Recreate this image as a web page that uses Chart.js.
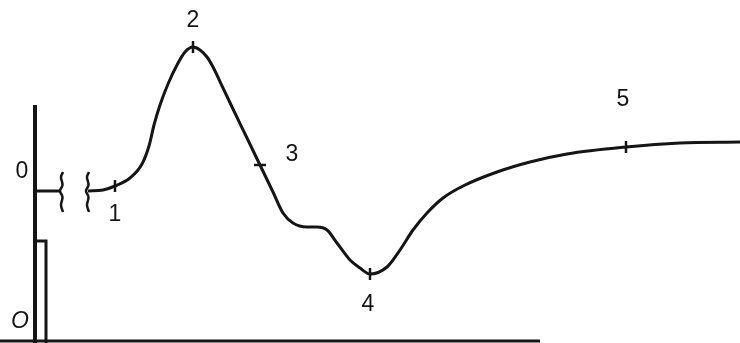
<!DOCTYPE html>
<html>
<head>
<meta charset="utf-8">
<script src="https://cdn.jsdelivr.net/npm/chart.js@4/dist/chart.umd.min.js"></script>
<style>
  html, body { margin: 0; padding: 0; background: #fff; }
  #wrap { width: 740px; height: 343px; }
</style>
</head>
<body>
<div id="wrap"><canvas id="chart" width="740" height="343"></canvas></div>
<script>
// --- DATA ---
// time (arbitrary units) and potential (baseline = 0)
const curveX = [8.8, 10.3, 11.5, 13.0, 14.2, 14.9, 15.4, 16.0, 16.8, 17.7, 18.5, 19.3, 20.0, 20.7, 21.3, 22.3, 23.3, 24.7, 26.0, 27.3, 28.3, 29.3, 30.7, 31.7, 32.7, 33.7, 35.0, 36.0, 37.0, 38.7, 40.0, 41.3, 42.7, 44.3, 46.3, 49.7, 53.0, 56.7, 62.6, 68.0, 74.0];
const curveY = [0.0, 0.1, 0.5, 1.3, 2.7, 4.5, 6.6, 8.6, 10.7, 12.6, 13.9, 14.4, 14.1, 13.4, 12.4, 10.3, 8.2, 5.3, 2.6, -0.1, -2.2, -3.2, -3.6, -3.6, -3.9, -5.2, -6.9, -7.7, -8.3, -7.6, -5.9, -3.9, -2.2, -0.7, 0.5, 1.9, 2.9, 3.7, 4.4, 4.8, 4.9];

const markX = [11.5, 19.3, 26.0, 37.0, 62.6];
const markY = [0.5, 14.4, 2.6, -8.3, 4.4];
const markLabels = ['1', '2', '3', '4', '5'];

const baselineX = [3.5, 6.0];
const baselineY = [0, 0];
const axisX = [3.5, 3.5];
const axisY = [8.6, -15.2];
const stimX = [3.5, 4.6, 4.6];
const stimY = [-5.0, -5.0, -15.2];
const groundX = [0, 54];
const groundY = [-15.0, -15.0];
const breakX = [6.15, 8.75];
const breakShapeDx = [0.15, -0.05, 0.1, -0.15, 0.1, -0.05, 0.15];
const breakShapeDy = [1.9, 1.4, 0.6, 0.0, -0.6, -1.4, -2.1];
const axisLabels = ['0', 'O'];

const pts = (xs, ys) => xs.map((x, i) => ({ x, y: ys[i] }));

const lineStyle = { borderColor: '#151515', borderWidth: 3, pointRadius: 0, fill: false, clip: false, tension: 0 };

const datasets = [
    { ...lineStyle, data: pts(curveX, curveY), cubicInterpolationMode: 'monotone' },
    { ...lineStyle, data: pts(baselineX, baselineY) },
    { ...lineStyle, data: pts(axisX, axisY), borderWidth: 4 },
    { ...lineStyle, data: pts(stimX, stimY) },
    { ...lineStyle, data: pts(groundX, groundY) },
    {
        type: 'scatter', data: pts(markX, markY), clip: false,
        pointStyle: 'line', pointRadius: 6, pointBorderWidth: 2.5,
        borderColor: '#151515', rotation: [90, 90, 0, 90, 90]
    }
];

breakX.forEach(bx => {
    datasets.push({
        ...lineStyle, borderWidth: 2.5, tension: 0.4,
        data: breakShapeDx.map((dx, i) => ({ x: bx + dx, y: breakShapeDy[i] }))
    });
});

// --- LABELS ---
const labelOffsets = [[0, 29], [0, -26], [32, -10], [-2, 31], [-3, -47]];

const labelPlugin = {
    id: 'labels',
    afterDatasetsDraw(chart) {
        const { ctx, scales: { x, y } } = chart;
        ctx.save();
        ctx.fillStyle = '#151515';
        ctx.textAlign = 'center';
        ctx.textBaseline = 'middle';
        ctx.font = '23px "Liberation Sans", Arial, sans-serif';
        markLabels.forEach((t, i) => {
            const [dx, dy] = labelOffsets[i];
            ctx.fillText(t, x.getPixelForValue(markX[i]) + dx, y.getPixelForValue(markY[i]) + dy);
        });
        ctx.fillText(axisLabels[0], x.getPixelForValue(axisX[0]) - 13, y.getPixelForValue(0) - 19);
        ctx.font = 'italic 23px "Liberation Sans", Arial, sans-serif';
        ctx.fillText(axisLabels[1], x.getPixelForValue(axisX[0]) - 15, y.getPixelForValue(groundY[0]) - 19);
        ctx.restore();
    }
};

new Chart(document.getElementById('chart'), {
    type: 'line',
    data: { datasets },
    options: {
        responsive: false,
        animation: false,
        layout: { padding: 0, autoPadding: false },
        plugins: { legend: { display: false }, tooltip: { enabled: false } },
        scales: {
            x: { type: 'linear', min: 0, max: 74, display: false },
            y: { type: 'linear', min: -15.2, max: 19.1, display: false }
        }
    },
    plugins: [labelPlugin]
});
</script>
</body>
</html>
